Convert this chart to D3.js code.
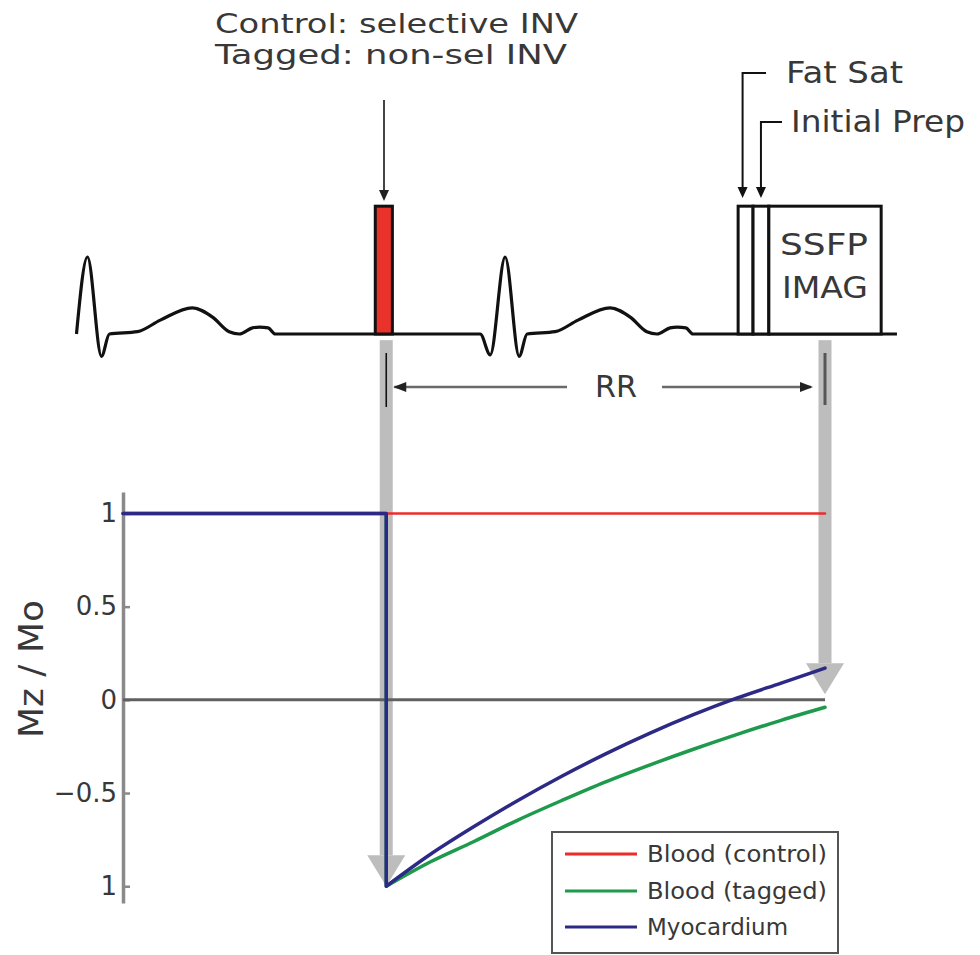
<!DOCTYPE html>
<meta charset="utf-8" />
<title>Inversion recovery of blood and myocardium</title>
<style>
  body { margin: 0; background: #fff; }
  text { font-family: "DejaVu Sans", sans-serif; fill: #383838; }
  .curve { fill: none; stroke-linejoin: round; stroke-linecap: round; }
  .ecg { fill: none; stroke: #111; stroke-width: 3.2; stroke-linejoin: round; }
  .pulse { stroke: #111; stroke-width: 3; }
  .axis path, .axis line { stroke: #8a8a8a; }
  .axis text { font-family: "DejaVu Sans", sans-serif; font-size: 26px; fill: #383838; }
</style>

<body>
  <script src="https://d3js.org/d3.v7.min.js"></script>
  <script>
    // time in ms: inversion pulse at 0, imaging one RR later
    var RR = 1000;
    var preTime = -600;

    // recovery after the inversion, Mz / Mo
    var recoveryTime = [0, 100, 200, 300, 400, 500, 600, 700, 800, 900, 1000];
    var myocardium = [-1, -0.83, -0.68, -0.54, -0.41, -0.29, -0.18, -0.08, 0.01, 0.09, 0.17];
    var bloodTagged = [-1, -0.87, -0.76, -0.645, -0.54, -0.44, -0.35, -0.265, -0.185, -0.11, -0.04];
    var bloodControl = 1;

    var yTicks = [1, 0.5, 0, -0.5, -1];
    var yTickLabels = ["1", "0.5", "0", "\u22120.5", "1"];

    var legendLabels = ["Blood (control)", "Blood (tagged)", "Myocardium"];

    // ECG beat template, offsets from the R peak (ms) and relative amplitude
    var beatOffset = [-57, -34, 0, 32, 50, 114, 166, 239, 285, 323, 346, 376, 392, 412, 428];
    var beatAmp = [0, -0.27, 1, -0.29, 0, 0.03, 0.18, 0.34, 0.22, 0.03, 0, 0.08, 0.09, 0.08, 0];
    var rPeaks = [-681, 271];
    var ecgStart = -706;
    var ecgEnd = 1164;

    // RF / imaging blocks on the timeline (ms)
    var pulseNames = ["INV", "Fat Sat", "Initial Prep", "SSFP"];
    var pulseStart = [-25, 802, 836, 872];
    var pulseEnd = [14, 836, 872, 1128];
    var pulseHeight = 1.66;

    var width = 980, height = 955;

    var svg = d3.select("body").append("svg")
      .attr("width", width)
      .attr("height", height);

    var x = d3.scaleLinear().domain([preTime, RR]).range([123, 825]);
    var y = d3.scaleLinear().domain([-1.09, 1.115]).range([903, 492]);
    var ecgY = d3.scaleLinear().domain([0, 1]).range([334, 257]);

    // helper for text stretched to the width of the original (wide) lettering
    function label(txt, px, py, size, len, anchor) {
      return svg.append("text")
        .attr("x", px)
        .attr("y", py)
        .attr("font-size", size)
        .attr("text-anchor", anchor || "start")
        .attr("textLength", len)
        .attr("lengthAdjust", "spacingAndGlyphs")
        .text(txt);
    }

    function head(px, py, dir, len, half, color) {
      // dir: "down", "left", "right"
      var pts;
      if (dir == "down") pts = [[px - half, py - len], [px + half, py - len], [px, py]];
      else if (dir == "left") pts = [[px + len, py - half], [px + len, py + half], [px, py]];
      else pts = [[px - len, py - half], [px - len, py + half], [px, py]];
      svg.append("polygon").attr("points", pts.join(" ")).attr("fill", color);
    }

    // ---- grey timing arrows from the sequence down to the plot
    var arrows = [{ t: 0, tip: -1 }, { t: RR, tip: 0.03 }];
    arrows.forEach(function(a) {
      var cx = x(a.t), tipY = y(a.tip), baseY = tipY - 31;
      svg.append("rect")
        .attr("x", cx - 6.5).attr("y", ecgY(-0.08))
        .attr("width", 13).attr("height", baseY - ecgY(-0.08))
        .attr("fill", "#bdbdbd");
      head(cx, tipY, "down", 31, 19, "#bdbdbd");
    });

    // marks inside the grey bars
    svg.append("line")
      .attr("x1", x(0)).attr("x2", x(0)).attr("y1", 353).attr("y2", 407)
      .attr("stroke", "#111").attr("stroke-width", 1.6);
    svg.append("line")
      .attr("x1", x(RR)).attr("x2", x(RR)).attr("y1", 353).attr("y2", 405)
      .attr("stroke", "#555").attr("stroke-width", 3);

    // RR span arrow
    var rrY = 387;
    svg.append("line")
      .attr("x1", x(0) + 8).attr("x2", 567).attr("y1", rrY).attr("y2", rrY)
      .attr("stroke", "#6a6a6a").attr("stroke-width", 2.5);
    svg.append("line")
      .attr("x1", 662).attr("x2", x(RR) - 14).attr("y1", rrY).attr("y2", rrY)
      .attr("stroke", "#6a6a6a").attr("stroke-width", 2.5);
    head(x(0) + 7, rrY, "left", 13, 5, "#222");
    head(x(RR) - 12, rrY, "right", 13, 5, "#222");
    label("RR", 616, 397, 31, 42, "middle");

    // ---- ECG trace
    var ecgPts = [[ecgStart, 0]];
    rPeaks.forEach(function(r) {
      beatOffset.forEach(function(o, j) {
        if (r + o > ecgStart) ecgPts.push([r + o, beatAmp[j]]);
      });
    });
    ecgPts.push([ecgEnd, 0]);

    svg.append("path")
      .attr("class", "ecg")
      .attr("d", d3.line()
        .x(function(d) { return x(d[0]); })
        .y(function(d) { return ecgY(d[1]); })
        .curve(d3.curveMonotoneX)(ecgPts));

    // ---- pulses
    pulseNames.forEach(function(name, i) {
      svg.append("rect")
        .attr("class", "pulse")
        .attr("x", x(pulseStart[i]))
        .attr("y", ecgY(pulseHeight))
        .attr("width", x(pulseEnd[i]) - x(pulseStart[i]))
        .attr("height", ecgY(0) - ecgY(pulseHeight))
        .attr("fill", i == 0 ? "#e8322a" : "#fff");
    });
    label("SSFP", 780, 255, 30, 88);
    label("IMAG", 782, 298, 30, 86);

    // annotation text and pointers
    label("Control: selective INV", 215, 33, 26, 363);
    label("Tagged: non-sel INV", 215, 64, 26, 352);
    svg.append("line")
      .attr("x1", 384).attr("x2", 384).attr("y1", 100).attr("y2", 192)
      .attr("stroke", "#444").attr("stroke-width", 2);
    head(384, 201, "down", 11, 5, "#222");

    var fatX = (x(pulseStart[1]) + x(pulseEnd[1])) / 2 - 3;
    var prepX = (x(pulseStart[2]) + x(pulseEnd[2])) / 2;
    svg.append("path")
      .attr("d", "M766,73H" + fatX + "V188")
      .attr("fill", "none").attr("stroke", "#111").attr("stroke-width", 2);
    head(fatX, 198, "down", 11, 5, "#111");
    svg.append("path")
      .attr("d", "M782,122H" + prepX + "V188")
      .attr("fill", "none").attr("stroke", "#111").attr("stroke-width", 2);
    head(prepX, 198, "down", 11, 5, "#111");
    label("Fat Sat", 786, 83, 30, 117);
    label("Initial Prep", 791, 132, 30, 174);

    // ---- plot
    var yAxis = d3.axisLeft(y)
      .tickValues(yTicks)
      .tickFormat(function(d, i) { return yTickLabels[i]; })
      .tickSizeInner(-7)
      .tickSizeOuter(0)
      .tickPadding(6);

    var gAxis = svg.append("g")
      .attr("class", "axis")
      .attr("transform", "translate(" + x(preTime) + ",0)")
      .call(yAxis);
    gAxis.select(".domain").attr("stroke-width", 3.5);
    gAxis.selectAll(".tick line").attr("stroke-width", 2.5);

    svg.append("text")
      .attr("transform", "translate(43,669) rotate(-90)")
      .attr("font-size", 34)
      .attr("text-anchor", "middle")
      .attr("textLength", 138)
      .attr("lengthAdjust", "spacingAndGlyphs")
      .text("Mz / Mo");

    // zero line
    svg.append("line")
      .attr("x1", x(preTime)).attr("x2", x(RR))
      .attr("y1", y(0)).attr("y2", y(0))
      .attr("stroke", "#606060").attr("stroke-width", 3);

    var line = d3.line()
      .x(function(d) { return x(d[0]); })
      .y(function(d) { return y(d[1]); });
    var curve = d3.line()
      .x(function(d) { return x(d[0]); })
      .y(function(d) { return y(d[1]); })
      .curve(d3.curveMonotoneX);

    var colors = ["#ee2b2b", "#1e9a4c", "#2d2a86"];

    // blood control stays at 1
    svg.append("path")
      .attr("class", "curve")
      .attr("stroke", colors[0]).attr("stroke-width", 2.5)
      .attr("d", line([[preTime, bloodControl], [RR, bloodControl]]));

    [bloodTagged, myocardium].forEach(function(series, k) {
      var pts = recoveryTime.map(function(t, i) { return [t, series[i]]; });
      svg.append("path")
        .attr("class", "curve")
        .attr("stroke", colors[k + 1]).attr("stroke-width", 3.5)
        .attr("d", line([[preTime, 1], [0, 1], [0, series[0]]]) + curve(pts).replace(/^M/, "L"));
    });

    // ---- legend
    svg.append("rect")
      .attr("x", 552).attr("y", 832)
      .attr("width", 286).attr("height", 121)
      .attr("fill", "#fff").attr("stroke", "#555").attr("stroke-width", 2);

    var legY = [854, 891, 927];
    var legLen = [180, 180, 141];
    legendLabels.forEach(function(name, i) {
      svg.append("line")
        .attr("x1", 565).attr("x2", 637)
        .attr("y1", legY[i]).attr("y2", legY[i])
        .attr("stroke", colors[i]).attr("stroke-width", 3);
      label(name, 647, legY[i] + 8, 23, legLen[i]);
    });
  </script>
</body>
